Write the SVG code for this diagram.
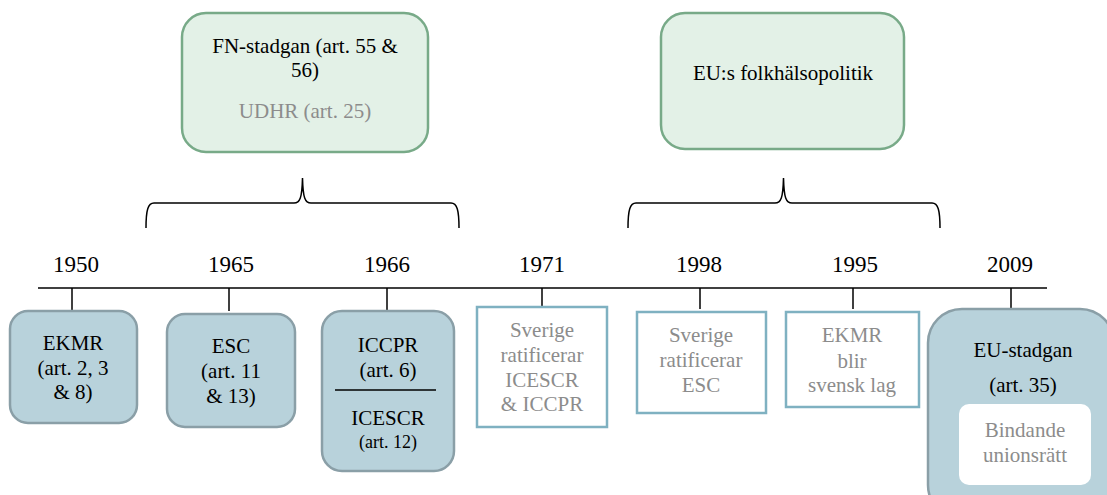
<svg xmlns="http://www.w3.org/2000/svg" width="1107" height="495" viewBox="0 0 1107 495">
<style>
text{font-family:"Liberation Serif","Times New Roman",serif;font-size:21px;fill:#000;text-anchor:middle}
.g{fill:#8c8c8c}
.yr{font-size:23px}
.sm{font-size:18px}
.green{fill:#e3f1e7;stroke:#78aa88;stroke-width:2.5}
.blue{fill:#b8d2db;stroke:#8a9fa7;stroke-width:2.5}
.out{fill:#fff;stroke:#7fb1c1;stroke-width:2.5}
.ln{stroke:#000;stroke-width:1.5;fill:none}
</style>
<rect width="1107" height="495" fill="#fff"/>
<g id="connectors">
<line class="ln" x1="38" y1="288" x2="1047" y2="288"/>
<line class="ln" x1="72" y1="288" x2="72" y2="310"/>
<line class="ln" x1="229" y1="288" x2="229" y2="311"/>
<line class="ln" x1="387" y1="288" x2="387" y2="311"/>
<line class="ln" x1="542" y1="288" x2="542" y2="306"/>
<line class="ln" x1="700" y1="288" x2="700" y2="309"/>
<line class="ln" x1="853" y1="288" x2="853" y2="309"/>
<line class="ln" x1="1011" y1="288" x2="1011" y2="308"/>
<path class="ln" d="M146,228 C146,210 148,203 154,203 L294,203 C300,203 302,198 302.5,178 C303,198 305,203 311,203 L451,203 C457,203 459,210 459,228"/>
<path class="ln" d="M628,228 C628,210 630,203 636,203 L775,203 C781,203 783,198 783.5,178 C784,198 786,203 792,203 L932,203 C938,203 940,210 940,228"/>
</g>
<g id="fn">
<rect class="green" x="182" y="13" width="246" height="139" rx="24"/>
<text x="305" y="53">FN-stadgan (art. 55 &amp;</text>
<text x="305" y="77">56)</text>
<text class="g" x="305" y="118">UDHR (art. 25)</text>
</g>
<g id="eu">
<rect class="green" x="661" y="13" width="243" height="136" rx="24"/>
<text x="783" y="80">EU:s folkhälsopolitik</text>
</g>
<g id="years">
<text class="yr" x="76" y="272">1950</text>
<text class="yr" x="231" y="272">1965</text>
<text class="yr" x="387" y="272">1966</text>
<text class="yr" x="542" y="272">1971</text>
<text class="yr" x="699" y="272">1998</text>
<text class="yr" x="855" y="272">1995</text>
<text class="yr" x="1010" y="272">2009</text>
</g>
<g id="ekmr">
<rect class="blue" x="10" y="311" width="127" height="112" rx="18"/>
<text x="73" y="350">EKMR</text>
<text x="73" y="375">(art. 2, 3</text>
<text x="73" y="399">&amp; 8)</text>
</g>
<g id="esc">
<rect class="blue" x="167" y="314" width="128" height="113" rx="18"/>
<text x="231" y="353">ESC</text>
<text x="231" y="378">(art. 11</text>
<text x="231" y="403">&amp; 13)</text>
</g>
<g id="iccpr">
<rect class="blue" x="322" y="311" width="132" height="160" rx="20"/>
<text x="388" y="352">ICCPR</text>
<text x="388" y="377">(art. 6)</text>
<line x1="335" y1="390" x2="436" y2="390" stroke="#000" stroke-width="1.5"/>
<text x="388" y="425">ICESCR</text>
<text class="sm" x="388" y="448">(art. 12)</text>
</g>
<g id="sv1971">
<rect class="out" x="477" y="307" width="130" height="120"/>
<text class="g" x="542" y="337">Sverige</text>
<text class="g" x="542" y="362">ratificerar</text>
<text class="g" x="542" y="387">ICESCR</text>
<text class="g" x="542" y="411">&amp; ICCPR</text>
</g>
<g id="sv1998">
<rect class="out" x="637" y="312" width="129" height="101"/>
<text class="g" x="701" y="342">Sverige</text>
<text class="g" x="701" y="367">ratificerar</text>
<text class="g" x="701" y="392">ESC</text>
</g>
<g id="ekmr1995">
<rect class="out" x="786" y="312" width="133" height="95"/>
<text class="g" x="852" y="342">EKMR</text>
<text class="g" x="852" y="368">blir</text>
<text class="g" x="852" y="392">svensk lag</text>
</g>
<g id="eustadgan">
<rect class="blue" x="928" y="309" width="186" height="210" rx="34"/>
<text x="1023" y="357">EU-stadgan</text>
<text x="1023" y="392">(art. 35)</text>
<rect x="959" y="404" width="132" height="81" rx="10" fill="#fff"/>
<text class="g" x="1025" y="437">Bindande</text>
<text class="g" x="1025" y="462">unionsrätt</text>
</g>
</svg>
